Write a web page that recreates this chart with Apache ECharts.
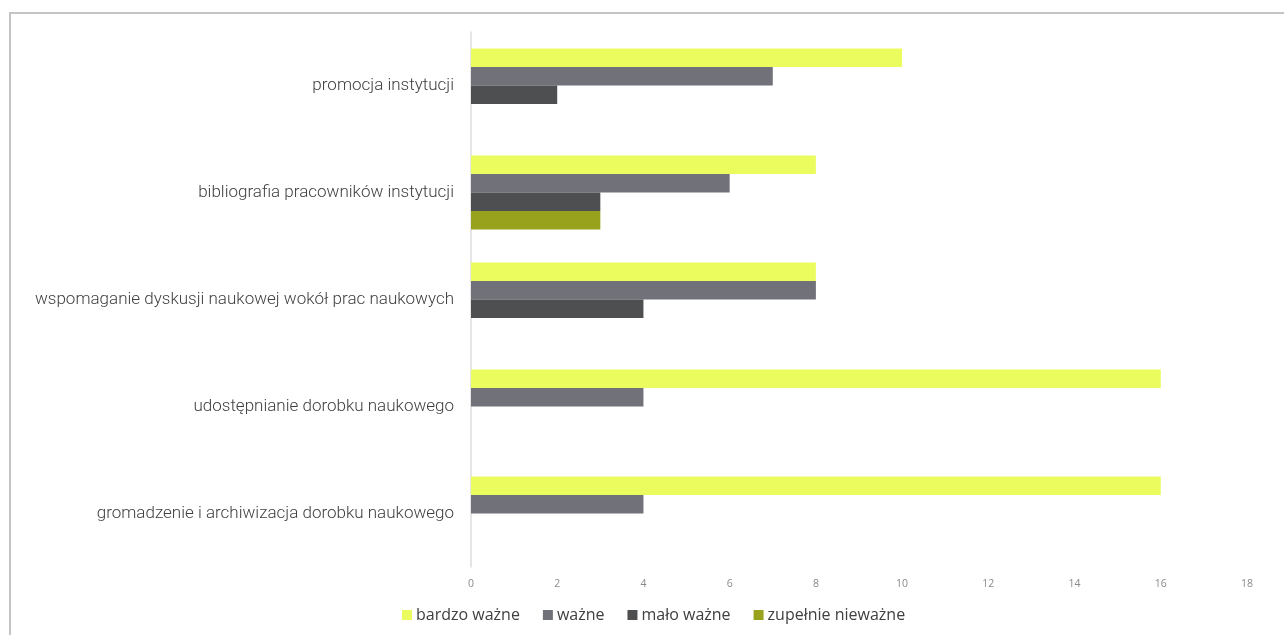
<!DOCTYPE html>
<html><head><meta charset="utf-8">
<script src="https://cdn.jsdelivr.net/npm/echarts@6/dist/echarts.min.js"></script>
<style>html,body{margin:0;padding:0;background:#fff}#c{width:1284px;height:635px}</style>
</head><body><div id="c"></div>
<script>
const categories = ['promocja instytucji','bibliografia pracowników instytucji','wspomaganie dyskusji naukowej wokół prac naukowych','udostępnianie dorobku naukowego','gromadzenie i archiwizacja dorobku naukowego'];
const seriesNames = ['bardzo ważne','ważne','mało ważne','zupełnie nieważne'];
const bardzoWazne = [10, 8, 8, 16, 16];
const wazne = [7, 6, 8, 4, 4];
const maloWazne = [2, 3, 4, 0, 0];
const zupelnieNiewazne = [0, 3, 0, 0, 0];
const colors = ['#ebfc5e','#717279','#4e4f51','#98a21c'];
const values = [bardzoWazne, wazne, maloWazne, zupelnieNiewazne];

const chart = echarts.init(document.getElementById('c'));
chart.setOption({
  animation: false,
  graphic: [{type:'rect', shape:{x:10,y:13,width:1400,height:800}, style:{fill:'none', stroke:'#c4c4c4', lineWidth:2}}],
  grid: {left: 471, right: 37, top: 32, bottom: 68, containLabel: false},
  legend: {
    bottom: 7, left: 397, itemWidth: 10, itemHeight: 10, itemGap: 23,
    icon: 'rect',
    textStyle: {fontFamily: 'Open Sans', fontSize: 16, color: '#404040', padding:[0,0,0,-1]},
    data: seriesNames
  },
  xAxis: {
    type: 'value', min: 0, max: 18, interval: 2,
    axisLine: {show: false}, axisTick: {show: false}, splitLine: {show: false},
    axisLabel: {color: '#8a8a8a', fontSize: 10.5, fontFamily: 'Open Sans', margin: 12}
  },
  yAxis: {
    type: 'category', inverse: true, data: categories,
    axisLine: {show: true, lineStyle: {color: '#dcdcdc', width: 1.5}},
    axisTick: {show: false},
    axisLabel: {color: '#404040', fontSize: 17, fontFamily: 'Roboto', fontWeight: 300, margin: 17}
  },
  series: seriesNames.map((n, i) => ({
    name: n, type: 'bar', data: values[i], barWidth: 18.5, barGap: '0%',
    itemStyle: {color: colors[i]}
  }))
});
</script></body></html>
